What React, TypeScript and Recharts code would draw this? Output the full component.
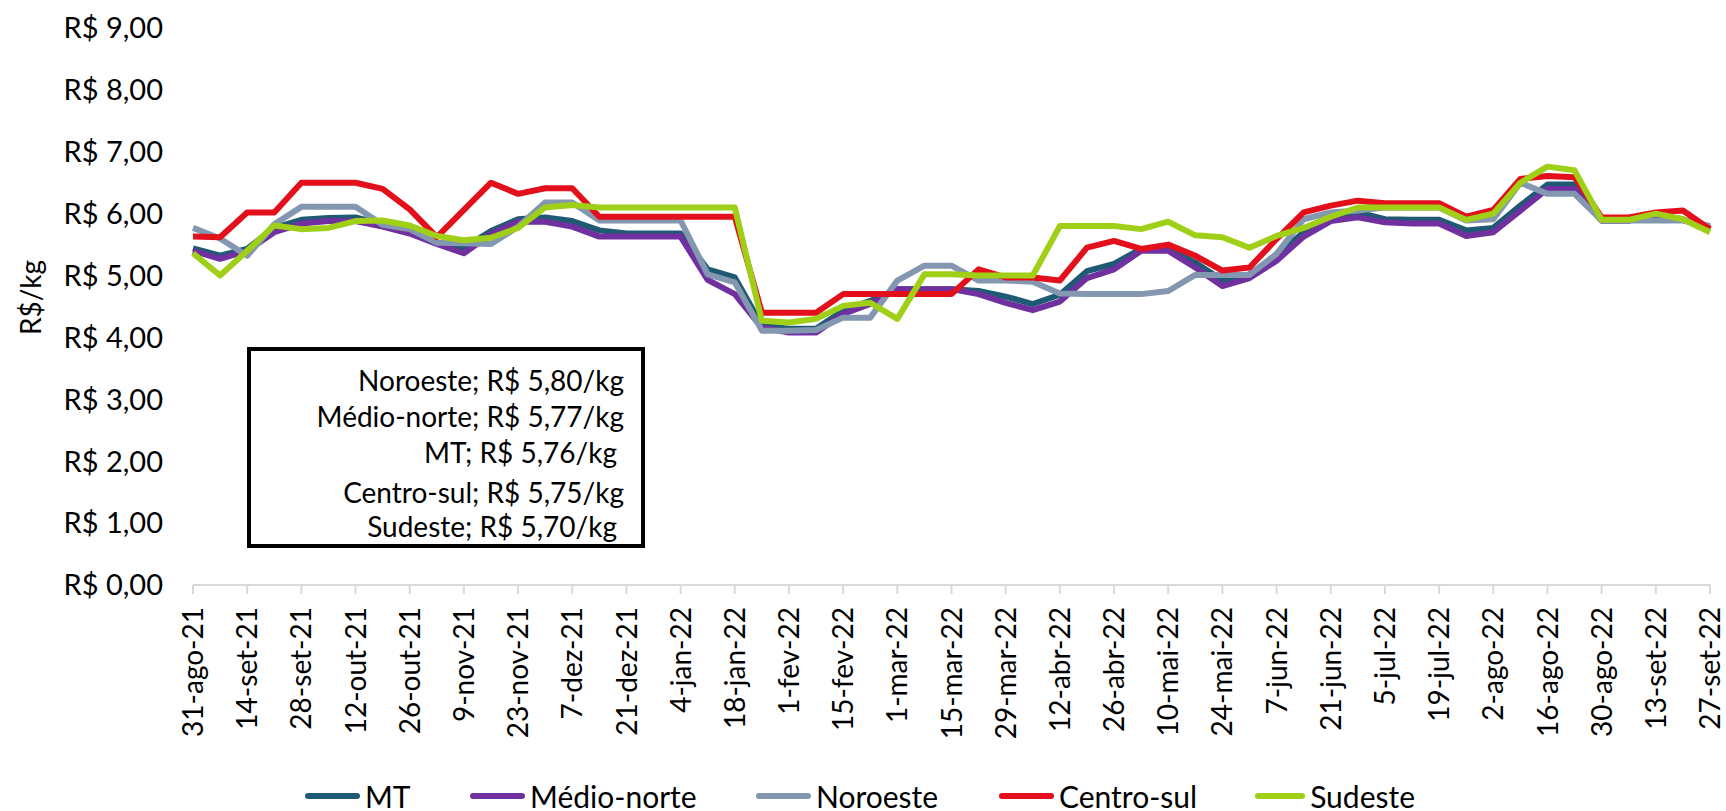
import { LineChart, Line, XAxis, YAxis, Legend } from "recharts";

const FONT = "Lato, 'Open Sans', sans-serif";

// weekly dates, 31-ago-21 .. 27-set-22
const weeks = [
  "31-ago-21", "7-set-21", "14-set-21", "21-set-21", "28-set-21", "5-out-21", "12-out-21", "19-out-21",
  "26-out-21", "2-nov-21", "9-nov-21", "16-nov-21", "23-nov-21", "30-nov-21", "7-dez-21", "14-dez-21",
  "21-dez-21", "28-dez-21", "4-jan-22", "11-jan-22", "18-jan-22", "25-jan-22", "1-fev-22", "8-fev-22",
  "15-fev-22", "22-fev-22", "1-mar-22", "8-mar-22", "15-mar-22", "22-mar-22", "29-mar-22", "5-abr-22",
  "12-abr-22", "19-abr-22", "26-abr-22", "3-mai-22", "10-mai-22", "17-mai-22", "24-mai-22", "31-mai-22",
  "7-jun-22", "14-jun-22", "21-jun-22", "28-jun-22", "5-jul-22", "12-jul-22", "19-jul-22", "26-jul-22",
  "2-ago-22", "9-ago-22", "16-ago-22", "23-ago-22", "30-ago-22", "6-set-22", "13-set-22", "20-set-22",
  "27-set-22",
];

const mt = [
  5.44, 5.32, 5.43, 5.77, 5.9, 5.93, 5.94, 5.83, 5.72, 5.53, 5.45, 5.72, 5.91, 5.94, 5.88, 5.73,
  5.68, 5.68, 5.68, 5.1, 4.97, 4.19, 4.14, 4.14, 4.43, 4.59, 4.78, 4.78, 4.78, 4.75, 4.66, 4.54,
  4.69, 5.07, 5.19, 5.43, 5.43, 5.21, 4.92, 5.02, 5.32, 5.7, 5.97, 6.02, 5.91, 5.9, 5.9, 5.73,
  5.77, 6.13, 6.47, 6.47, 5.89, 5.89, 5.97, 5.91, 5.76,
];

const medioNorte = [
  5.4, 5.27, 5.4, 5.7, 5.84, 5.88, 5.88, 5.79, 5.68, 5.51, 5.36, 5.67, 5.87, 5.87, 5.79, 5.63,
  5.63, 5.63, 5.63, 4.93, 4.7, 4.16, 4.08, 4.08, 4.38, 4.54, 4.78, 4.78, 4.78, 4.7, 4.56, 4.44,
  4.58, 4.96, 5.1, 5.4, 5.4, 5.13, 4.83, 4.96, 5.24, 5.63, 5.88, 5.94, 5.86, 5.84, 5.84, 5.64,
  5.7, 6.05, 6.4, 6.4, 5.89, 5.89, 5.98, 5.9, 5.77,
];

const noroeste = [
  5.77, 5.6, 5.32, 5.83, 6.11, 6.11, 6.11, 5.82, 5.75, 5.53, 5.52, 5.51, 5.79, 6.18, 6.18, 5.89,
  5.89, 5.89, 5.89, 5.02, 4.89, 4.11, 4.11, 4.12, 4.32, 4.32, 4.92, 5.16, 5.16, 4.92, 4.92, 4.9,
  4.71, 4.7, 4.7, 4.7, 4.75, 5.01, 5.01, 5.01, 5.35, 5.91, 6.02, 6.05, 6.1, 6.1, 6.1, 5.89,
  5.91, 6.5, 6.32, 6.32, 5.89, 5.89, 5.89, 5.89, 5.8,
];

const centroSul = [
  5.63, 5.62, 6.02, 6.02, 6.5, 6.5, 6.5, 6.4, 6.07, 5.62, 6.06, 6.5, 6.32, 6.41, 6.41, 5.95,
  5.95, 5.95, 5.95, 5.95, 5.95, 4.4, 4.4, 4.4, 4.7, 4.7, 4.7, 4.7, 4.7, 5.1, 4.97, 4.97,
  4.92, 5.45, 5.56, 5.43, 5.5, 5.32, 5.08, 5.13, 5.59, 6.02, 6.13, 6.21, 6.17, 6.17, 6.17, 5.95,
  6.06, 6.56, 6.61, 6.59, 5.94, 5.94, 6.02, 6.05, 5.75,
];

const sudeste = [
  5.36, 5.0, 5.4, 5.81, 5.75, 5.77, 5.88, 5.89, 5.81, 5.64, 5.57, 5.61, 5.77, 6.1, 6.14, 6.1,
  6.1, 6.1, 6.1, 6.1, 6.1, 4.27, 4.24, 4.3, 4.51, 4.56, 4.3, 5.02, 5.02, 5.0, 5.0, 5.0,
  5.8, 5.8, 5.8, 5.75, 5.87, 5.65, 5.62, 5.45, 5.64, 5.77, 5.95, 6.1, 6.1, 6.1, 6.1, 5.9,
  6.0, 6.5, 6.76, 6.7, 5.9, 5.9, 6.0, 5.91, 5.7,
];

const yTicks = [0, 1, 2, 3, 4, 5, 6, 7, 8, 9];

// last-week prices shown in the text box
const lastPrices = [
  "Noroeste; R$ 5,80/kg",
  "Médio-norte; R$ 5,77/kg",
  "MT; R$ 5,76/kg",
  "Centro-sul; R$ 5,75/kg",
  "Sudeste; R$ 5,70/kg",
];

const series = [
  { key: "mt", name: "MT", color: "#1f5a75", values: mt },
  { key: "medioNorte", name: "Médio-norte", color: "#7030a0", values: medioNorte },
  { key: "noroeste", name: "Noroeste", color: "#8497b0", values: noroeste },
  { key: "centroSul", name: "Centro-sul", color: "#e3101b", values: centroSul },
  { key: "sudeste", name: "Sudeste", color: "#9fcf16", values: sudeste },
];

const data = weeks.map((week, i) => {
  const row: Record<string, string | number> = { week };
  for (const s of series) row[s.key] = s.values[i];
  return row;
});

const brl = (v: number) => `R$ ${v.toFixed(2).replace(".", ",")}`;

function WeekTick({ x, y, payload }: any) {
  return (
    <g transform={`translate(${x},${y})`}>
      <text transform="rotate(-90)" textAnchor="end" dy="0.36em" fontSize={28} fontFamily={FONT} fill="#000">
        {payload.value}
      </text>
    </g>
  );
}

function AxisTitle({ viewBox }: any) {
  const cx = (viewBox?.x ?? 0) + 30;
  const cy = (viewBox?.y ?? 0) + (viewBox?.height ?? 0) / 2 - 9;
  return (
    <text
      x={cx}
      y={cy}
      transform={`rotate(-90, ${cx}, ${cy})`}
      textAnchor="middle"
      dominantBaseline="central"
      fontSize={28}
      fontFamily={FONT}
      fill="#000"
    >
      R$/kg
    </text>
  );
}

// legend item widths copied from the reference spacing
const legendWidths = [165, 286, 243, 256, 160];

function SeriesLegend() {
  return (
    <div style={{ display: "flex", paddingLeft: 305, height: 30, alignItems: "center", fontFamily: FONT, fontSize: 30 }}>
      {series.map((s, i) => (
        <div key={s.key} style={{ display: "flex", alignItems: "center", gap: 5, width: legendWidths[i], flex: "none" }}>
          <span style={{ display: "inline-block", width: 55, height: 6, borderRadius: 3, background: s.color }} />
          <span style={{ color: "#000", lineHeight: "30px", whiteSpace: "nowrap" }}>{s.name}</span>
        </div>
      ))}
    </div>
  );
}

export default function App() {
  return (
    <div style={{ position: "absolute", left: 0, top: 0, width: 1726, height: 811, background: "#fff" }}>
      <LineChart width={1726} height={811} data={data} margin={{ top: 28, right: 16, bottom: 0, left: 0 }}>
        <XAxis
          dataKey="week"
          interval={1}
          height={196}
          tick={<WeekTick />}
          tickSize={9}
          tickMargin={13}
          stroke="#d9d9d9"
          strokeWidth={2}
          padding={{ left: 0, right: 0 }}
        />
        <YAxis
          width={193}
          domain={[0, 9]}
          ticks={yTicks}
          tickFormatter={brl}
          axisLine={false}
          tickLine={false}
          tickSize={0}
          tickMargin={30}
          tick={{ fontSize: 29, fontFamily: FONT, fill: "#000" }}
          label={<AxisTitle />}
        />
        <Legend verticalAlign="bottom" content={<SeriesLegend />} wrapperStyle={{ width: 1726, left: 0 }} />
        {series.map((s) => (
          <Line
            key={s.key}
            type="linear"
            dataKey={s.key}
            name={s.name}
            stroke={s.color}
            strokeWidth={6}
            strokeLinejoin="round"
            dot={false}
            activeDot={false}
            isAnimationActive={false}
          />
        ))}
      </LineChart>
      <div
        style={{
          position: "absolute",
          left: 247,
          top: 347,
          width: 382,
          height: 193,
          border: "4px solid #000",
          background: "#fff",
          fontFamily: FONT,
          fontSize: 28,
          color: "#000",
          paddingRight: 8,
          boxSizing: "content-box",
        }}
      >
        {lastPrices.map((t, i) => (
          <div
            key={i}
            style={{
              position: "absolute",
              right: i === 2 || i === 4 ? 24 : 17,
              top: [12, 48, 84, 124, 158][i],
              lineHeight: "34px",
              whiteSpace: "pre",
            }}
          >
            {t}
          </div>
        ))}
      </div>
    </div>
  );
}
